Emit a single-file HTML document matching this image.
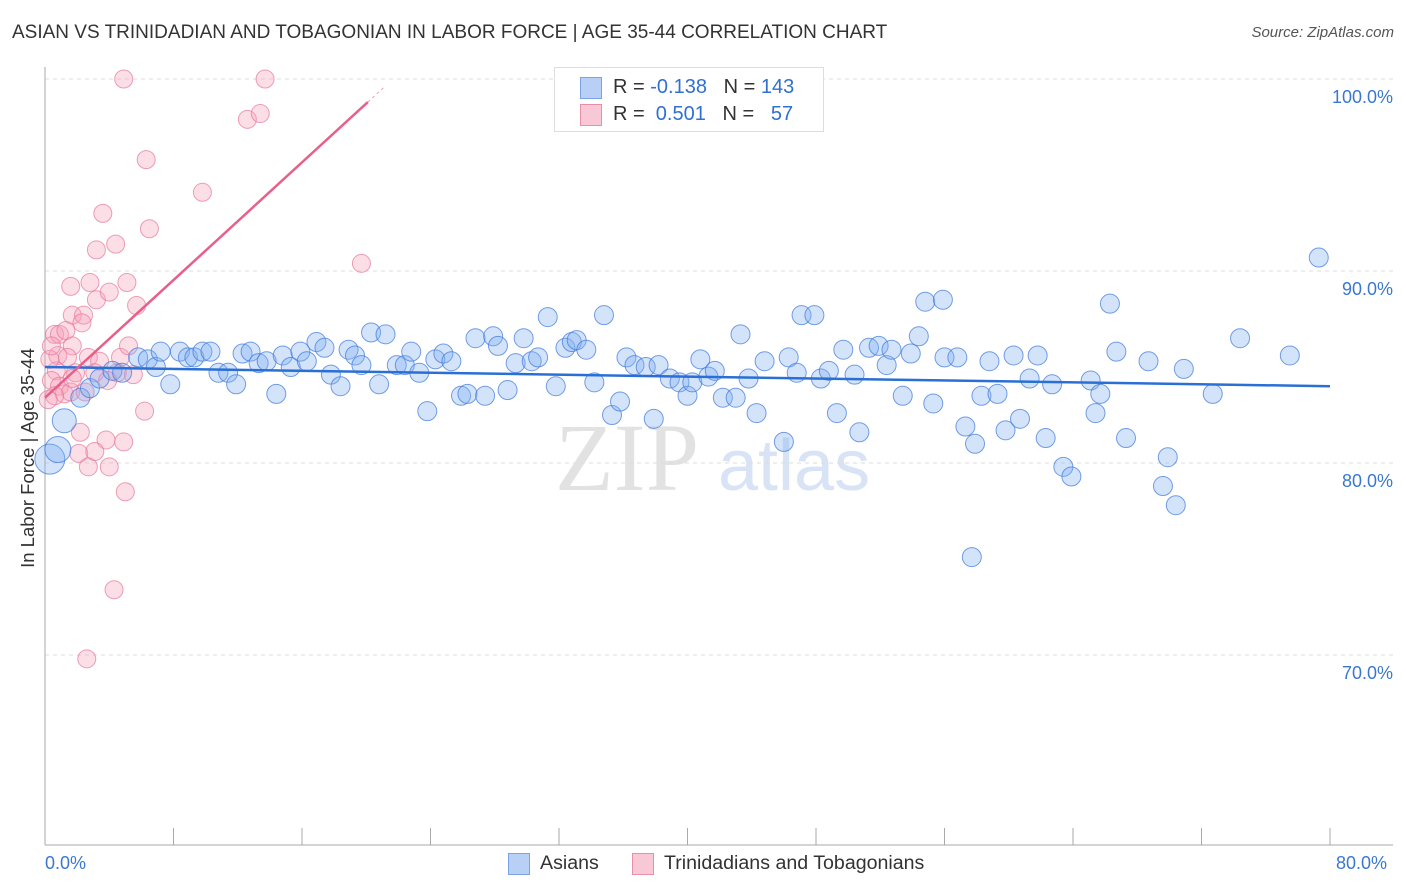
<!DOCTYPE html>
<html><head><meta charset="utf-8"><style>
body{margin:0;background:#fff;font-family:"Liberation Sans",sans-serif;}
#wrap{position:relative;width:1406px;height:892px;overflow:hidden;}
.t{position:absolute;white-space:nowrap;}
</style></head><body>
<div id="wrap">
<div class="t" style="left:12px;top:22px;font-size:19px;color:#333;">ASIAN VS TRINIDADIAN AND TOBAGONIAN IN LABOR FORCE | AGE 35-44 CORRELATION CHART</div>
<div class="t" style="right:12px;top:24px;font-size:15px;color:#555;font-style:italic;">Source: ZipAtlas.com</div>
<svg id="plot" width="1406" height="892" style="position:absolute;left:0;top:0">
<text x="555" y="490" font-family="Liberation Serif" font-size="96" fill="#e2e2e2">ZIP</text>
<text x="718" y="490" font-family="Liberation Sans" font-size="72" fill="#d8e4f5">atlas</text>
</svg>
<div style="position:absolute;left:554px;top:67px;width:268px;height:63px;border:1px solid #ddd;background:#fff;font-size:20px;">
<div style="position:absolute;left:25px;top:9px;width:20px;height:20px;background:#b8d0f5;border:1px solid #7aa3e5;"></div>
<div class="t" style="left:58px;top:8px;color:#333;">R = <span style="color:#3070d0">-0.138</span>&nbsp;&nbsp;&nbsp;N = <span style="color:#3070d0">143</span></div>
<div style="position:absolute;left:25px;top:36px;width:20px;height:20px;background:#f8c8d6;border:1px solid #e890a8;"></div>
<div class="t" style="left:58px;top:35px;color:#333;">R = &nbsp;<span style="color:#3070d0">0.501</span>&nbsp;&nbsp;&nbsp;N = &nbsp;&nbsp;<span style="color:#3070d0">57</span></div>
</div>
<div class="t" style="left:28px;top:458px;font-size:18.5px;color:#333;transform:translate(-50%,-50%) rotate(-90deg);">In Labor Force | Age 35-44</div>
<div class="t" style="left:45px;top:853px;font-size:18px;color:#3a78d0;">0.0%</div>
<div class="t" style="left:1336px;top:853px;font-size:18px;color:#3a78d0;">80.0%</div>
<div style="position:absolute;left:508px;top:853px;width:20px;height:20px;background:#b8d0f5;border:1px solid #7aa3e5;"></div>
<div class="t" style="left:540px;top:852px;font-size:19.6px;color:#333;">Asians</div>
<div style="position:absolute;left:632px;top:853px;width:20px;height:20px;background:#f8c8d6;border:1px solid #e890a8;"></div>
<div class="t" style="left:664px;top:852px;font-size:19.6px;color:#333;">Trinidadians and Tobagonians</div>
</div>
<script>
const yTicks=[100,90,80,70];
const yTickLabels=["100.0%","90.0%","80.0%","70.0%"];
const asianX=[0.3,0.8,1.2,2.2,2.8,3.4,4.2,4.8,5.8,6.4,6.9,7.2,7.8,8.4,8.9,9.3,9.8,10.3,10.8,11.4,11.9,12.3,12.8,13.3,13.8,14.4,14.8,15.3,15.9,16.3,16.9,17.4,17.8,18.4,18.9,19.3,19.7,20.3,20.8,21.2,21.9,22.4,22.8,23.3,23.8,24.3,24.8,25.3,25.9,26.3,26.8,27.4,27.9,28.2,28.8,29.3,29.8,30.3,30.7,31.3,31.8,32.4,32.8,33.1,33.7,34.2,34.8,35.3,35.8,36.2,36.7,37.4,37.9,38.2,38.9,39.5,40.0,40.3,40.8,41.3,41.7,42.2,43.0,43.3,43.8,44.3,44.8,46.0,46.3,46.8,47.1,47.9,48.3,48.8,49.3,49.7,50.4,50.7,51.3,51.9,52.4,52.7,53.4,53.9,54.4,54.8,55.3,55.9,56.0,56.8,57.3,57.9,58.3,58.8,59.3,59.8,60.3,60.7,61.3,62.3,62.7,61.8,63.4,63.9,65.1,65.4,65.7,66.3,66.7,67.3,68.7,69.6,69.9,70.4,70.9,72.7,74.4,77.5,79.3,57.7];
const asianY=[80.2,80.7,82.2,83.4,83.9,84.4,84.8,84.7,85.5,85.4,85.0,85.8,84.1,85.8,85.5,85.5,85.8,85.8,84.7,84.7,84.1,85.7,85.8,85.2,85.3,83.6,85.6,85.0,85.8,85.3,86.3,86.0,84.6,84.0,85.9,85.6,85.1,86.8,84.1,86.7,85.1,85.1,85.8,84.7,82.7,85.4,85.7,85.3,83.5,83.6,86.5,83.5,86.6,86.1,83.8,85.2,86.5,85.3,85.5,87.6,84.0,86.0,86.3,86.4,85.9,84.2,87.7,82.5,83.2,85.5,85.1,85.0,82.3,85.1,84.4,84.2,83.5,84.2,85.4,84.5,84.8,83.4,83.4,86.7,84.4,82.6,85.3,81.1,85.5,84.7,87.7,87.7,84.4,84.8,82.6,85.9,84.6,81.6,86.0,86.1,85.1,85.9,83.5,85.7,86.6,88.4,83.1,88.5,85.5,85.5,81.9,81.0,83.5,85.3,83.6,81.7,85.6,82.3,84.4,81.3,84.1,85.6,79.8,79.3,84.3,82.6,83.6,88.3,85.8,81.3,85.3,78.8,80.3,77.8,84.9,83.6,86.5,85.6,90.7,75.1];
const asianR=[15,13,12,11,10,10,10,10,10,10,10,10,10];
const trinX=[4.9,13.7,12.6,13.4,6.3,9.8,3.6,6.5,3.2,4.4,5.1,1.6,2.8,3.2,4.0,5.7,19.7,1.7,2.4,2.3,0.6,0.9,1.3,1.7,0.8,1.4,2.7,3.4,4.7,5.2,0.7,1.9,3.1,4.5,5.5,0.4,0.9,1.2,1.6,0.6,2.5,1.7,6.2,2.2,2.1,3.8,4.9,2.7,3.1,4.0,5.0,4.3,2.6,0.3,0.2,0.4,3.9];
const trinY=[100,100,97.9,98.2,95.8,94.1,93.0,92.2,91.1,91.4,89.4,89.2,89.4,88.5,88.9,88.2,90.4,87.7,87.7,87.3,86.7,86.7,86.9,86.1,85.6,85.5,85.5,85.3,85.5,86.1,84.8,84.7,84.7,84.7,84.6,84.3,84.0,83.6,83.7,83.5,83.7,84.4,82.7,81.6,80.5,81.2,81.1,79.8,80.6,79.8,78.5,73.4,69.8,85.4,83.3,86.1,84.3];
const asianTrend=[85.0,84.0];
const trinTrend=[83.4,98.8,20.1];
const X0=45,X1=1330,Y100=79,PX_PER=19.2;
function sx(v){return X0+(X1-X0)*v/80;}
function sy(v){return Y100+(100-v)*PX_PER;}
const svg=document.getElementById('plot');
const NS='http://www.w3.org/2000/svg';
function mk(tag,attrs){const e=document.createElementNS(NS,tag);for(const k in attrs)e.setAttribute(k,attrs[k]);svg.appendChild(e);return e;}
yTicks.forEach((t,i)=>{
  const g=mk('line',{x1:45,x2:1393,y1:sy(t),y2:sy(t),stroke:'#ddd','stroke-dasharray':'4,4'});
  
  
  const l=mk('text',{x:1393,y:sy(t)+24,'text-anchor':'end','font-size':18,fill:'#3a78d0','font-family':'Liberation Sans'});
  l.textContent=yTickLabels[i];
  
  
});
const ya=mk('line',{x1:45,x2:45,y1:67,y2:845,stroke:'#aaa'});


const xa=mk('line',{x1:45,x2:1393,y1:845,y2:845,stroke:'#aaa'});


for(let i=0;i<=10;i++){const tk=mk('line',{x1:sx(i*8),x2:sx(i*8),y1:828,y2:845,stroke:'#aaa'});
  
  }
trinX.forEach((x,i)=>{const c=mk('circle',{cx:sx(x),cy:sy(trinY[i]),r:9,fill:'rgba(245,160,185,0.35)',stroke:'rgba(230,120,155,0.7)','stroke-width':1});
  
  });
asianX.forEach((x,i)=>{const c=mk('circle',{cx:sx(x),cy:sy(asianY[i]),r:(i<3?asianR[i]:9.5),fill:'rgba(130,175,240,0.35)',stroke:'rgba(60,120,220,0.7)','stroke-width':1});
  
  });
const bt=mk('line',{x1:sx(0),y1:sy(asianTrend[0]),x2:sx(80),y2:sy(asianTrend[1]),stroke:'#2a6fd6','stroke-width':2.5});


const pt=mk('line',{x1:sx(0),y1:sy(trinTrend[0]),x2:sx(trinTrend[2]),y2:sy(trinTrend[1]),stroke:'#e8608a','stroke-width':2.5});


const slope=(trinTrend[1]-trinTrend[0])/trinTrend[2];
const pd=mk('line',{x1:sx(trinTrend[2]),y1:sy(trinTrend[1]),x2:sx(trinTrend[2]+1.1),y2:sy(trinTrend[1]+slope*1.1),stroke:'#f0a0b8','stroke-width':1,'stroke-dasharray':'3,3'});


</script>
</body></html>
